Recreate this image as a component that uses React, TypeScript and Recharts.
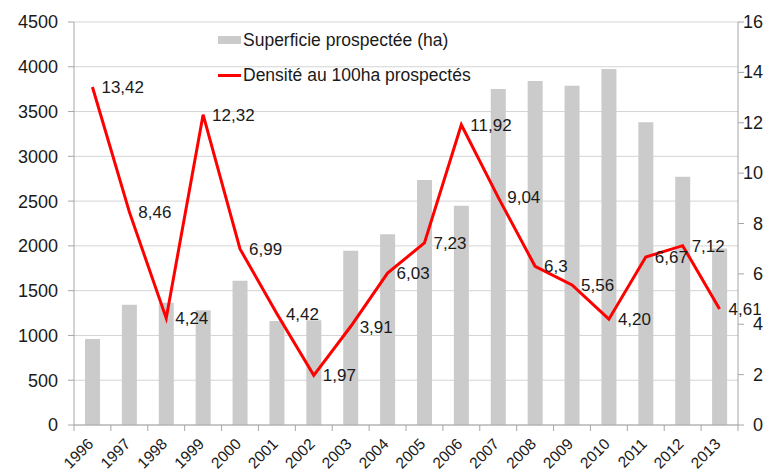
import React from 'react';
import { ComposedChart, Bar, Line, XAxis, YAxis, CartesianGrid, LabelList } from 'recharts';

const years = ['1996','1997','1998','1999','2000','2001','2002','2003','2004','2005','2006','2007','2008','2009','2010','2011','2012','2013'];
const superficie = [960,1343,1365,1282,1612,1161,1170,1946,2130,2736,2449,3752,3841,3789,3975,3380,2773,1972];
const densite = [13.42,8.46,4.24,12.32,6.99,4.42,1.97,3.91,6.03,7.23,11.92,9.04,6.3,5.56,4.2,6.67,7.12,4.61];
const densiteLabels = ['13,42','8,46','4,24','12,32','6,99','4,42','1,97','3,91','6,03','7,23','11,92','9,04','6,3','5,56','4,20','6,67','7,12','4,61'];
const leftTicks = [0,500,1000,1500,2000,2500,3000,3500,4000,4500];
const rightTicks = [0,2,4,6,8,10,12,14,16];
const seriesNames = ['Superficie prospectée (ha)', 'Densité au 100ha prospectés'];

const data = years.map((y, i) => ({ year: y, sup: superficie[i], dens: densite[i], lab: densiteLabels[i] }));

const W = 776, H = 471;
const LEFT = 74, RIGHT_W = 38, TOP = 22, BOTTOM_H = 46;
const slot = (W - LEFT - RIGHT_W) / years.length;
const FONT = '"Liberation Sans", Arial, sans-serif';
const TEXT = '#1a1a1a';

const XTick = (props: any) => {
  const { x, y, payload, index } = props;
  const last = index === years.length - 1;
  const ax = x + 2, ay = y + 20;
  return (
    <g>
      <line x1={x - slot / 2} x2={x - slot / 2} y1={y} y2={y + 6} stroke="#a6a6a6" />
      {last && <line x1={x + slot / 2} x2={x + slot / 2} y1={y} y2={y + 6} stroke="#a6a6a6" />}
      <text x={ax} y={ay} transform={`rotate(-45 ${ax} ${ay})`} textAnchor="end" fontSize={15.5} fill={TEXT} fontFamily={FONT}>
        {payload.value}
      </text>
    </g>
  );
};

const RTick = (props: any) => {
  const { y, payload } = props;
  return (
    <text x={763} y={y} textAnchor="end" dominantBaseline="central" fontSize={18} fill={TEXT} fontFamily={FONT}>
      {payload.value}
    </text>
  );
};

export default function App() {
  return (
    <div style={{ position: 'absolute', left: 0, top: 0, width: W, height: H, background: '#fff' }}>
      <ComposedChart width={W} height={H} data={data} margin={{ top: TOP, right: 0, bottom: 0, left: 0 }}>
        <CartesianGrid vertical={false} stroke="#d4d4d4" yAxisId="left" />
        <XAxis dataKey="year" height={BOTTOM_H} interval={0} tickSize={0} tickMargin={0} tickLine={false} axisLine={{ stroke: '#a6a6a6' }} tick={<XTick />} />
        <YAxis yAxisId="left" orientation="left" width={LEFT} domain={[0, 4500]} ticks={leftTicks} interval={0}
          tickSize={6} tickMargin={10} axisLine={{ stroke: '#a6a6a6' }} tickLine={{ stroke: '#a6a6a6' }}
          tick={{ fontSize: 18, fill: TEXT, fontFamily: FONT }} />
        <YAxis yAxisId="right" orientation="right" width={RIGHT_W} domain={[0, 16]} ticks={rightTicks} interval={0}
          tickSize={6} tickMargin={5} axisLine={{ stroke: '#a6a6a6' }} tickLine={{ stroke: '#a6a6a6' }}
          tick={<RTick />} />
        <Bar yAxisId="left" dataKey="sup" fill="#cbcbcb" barSize={15} isAnimationActive={false} />
        <Line yAxisId="right" dataKey="dens" stroke="#ff0000" strokeWidth={3} dot={false} isAnimationActive={false} type="linear">
          <LabelList dataKey="lab" position="right" offset={9} fontSize={17} fill={TEXT} fontFamily={FONT} />
        </Line>
      </ComposedChart>
      <div style={{ position: 'absolute', left: 218, top: 30, fontFamily: FONT, fontSize: 17.5, color: TEXT, lineHeight: '20px', whiteSpace: 'nowrap' }}>
        <div style={{ display: 'flex', alignItems: 'center', height: 20 }}>
          <span style={{ display: 'inline-block', width: 23, height: 8, background: '#cbcbcb', marginRight: 2 }} />
          <span>{seriesNames[0]}</span>
        </div>
        <div style={{ display: 'flex', alignItems: 'center', height: 20, marginTop: 15 }}>
          <span style={{ display: 'inline-block', width: 23, height: 3, background: '#ff0000', marginRight: 2 }} />
          <span>{seriesNames[1]}</span>
        </div>
      </div>
    </div>
  );
}
